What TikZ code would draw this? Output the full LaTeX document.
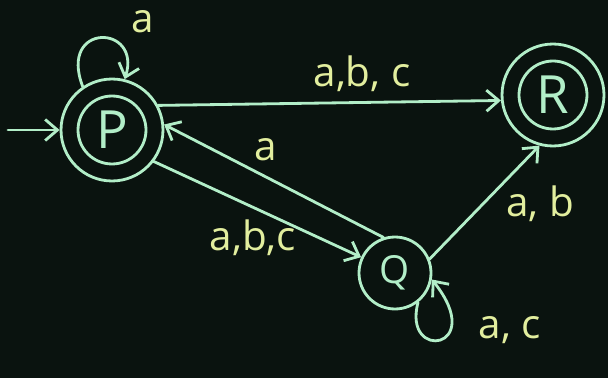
\documentclass[tikz,border=0pt]{standalone}
\usepackage{fontspec}
\setmainfont{Open Sans}
\usepackage{tikz}
\usetikzlibrary{arrows.meta,positioning}
\definecolor{board}{HTML}{0A130F}
\definecolor{chalk}{HTML}{B2EEC8}
\definecolor{chalk-label}{HTML}{E2EE9E}
\tikzset{
  fa-outer/.style={draw=chalk, circle, line width=1.6pt, minimum size=2.04cm, inner sep=0pt},
  fa-inner/.style={draw=chalk, circle, line width=1.6pt, minimum size=1.36cm, inner sep=0pt,
    text=chalk, font=\fontsize{30}{32}\selectfont},
  fa-single/.style={draw=chalk, circle, line width=1.6pt, minimum size=1.44cm, inner sep=0pt,
    text=chalk, font=\fontsize{22}{24}\selectfont},
  fa-edge/.style={draw=chalk, line width=1.6pt, line cap=round,
    -{Straight Barb[length=7pt, width=12pt, line width=1.6pt]}},
  fa-label/.style={text=chalk-label, font=\fontsize{23}{25}\selectfont, inner sep=1pt}
}

\begin{document}
\begin{tikzpicture}[x=0.02cm, y=-0.02cm]
  % Board
  \fill[board] (0,0) rectangle (608,378);
  \useasboundingbox (0,0) rectangle (608,378);

  % --- States ---
  \node[fa-outer] (P) at (112,130) {};
  \node[fa-inner] (P-in) at (P) {P};
  \node[fa-outer] (R) at (553,95) {};
  \node[fa-inner] (R-in) at (R) {R};
  \node[fa-single] (Q) at (395,273) {Q};

  % Start arrow
  \coordinate (start) at (8,130);
  \draw[fa-edge] (start) -- (P.180);

  % --- Transitions ---
  \draw[fa-edge] (P.28) -- (R.186);
  \draw[fa-edge] (P.-37) -- (Q.155);
  \draw[fa-edge] (Q.108) -- (P.6);
  \draw[fa-edge] (Q.22) -- (R.255);
  % Self loops
  \draw[fa-edge] (P.124) .. controls (58,22) and (142,24) .. (P.76);
  \draw[fa-edge] (Q.-52) .. controls (402,362) and (488,350) .. (Q.-10);

  % --- Labels ---
  \node[fa-label] (lbl-pp) at (143,22) {a};
  \node[fa-label] (lbl-pr) at (362,74) {a,b, c};
  \node[fa-label] (lbl-qp) at (266,150) {a};
  \node[fa-label] (lbl-pq) at (253,238) {a,b,c};
  \node[fa-label] (lbl-qr) at (540,204) {a, b};
  \node[fa-label] (lbl-qq) at (510,330) {a, c};
\end{tikzpicture}
\end{document}
